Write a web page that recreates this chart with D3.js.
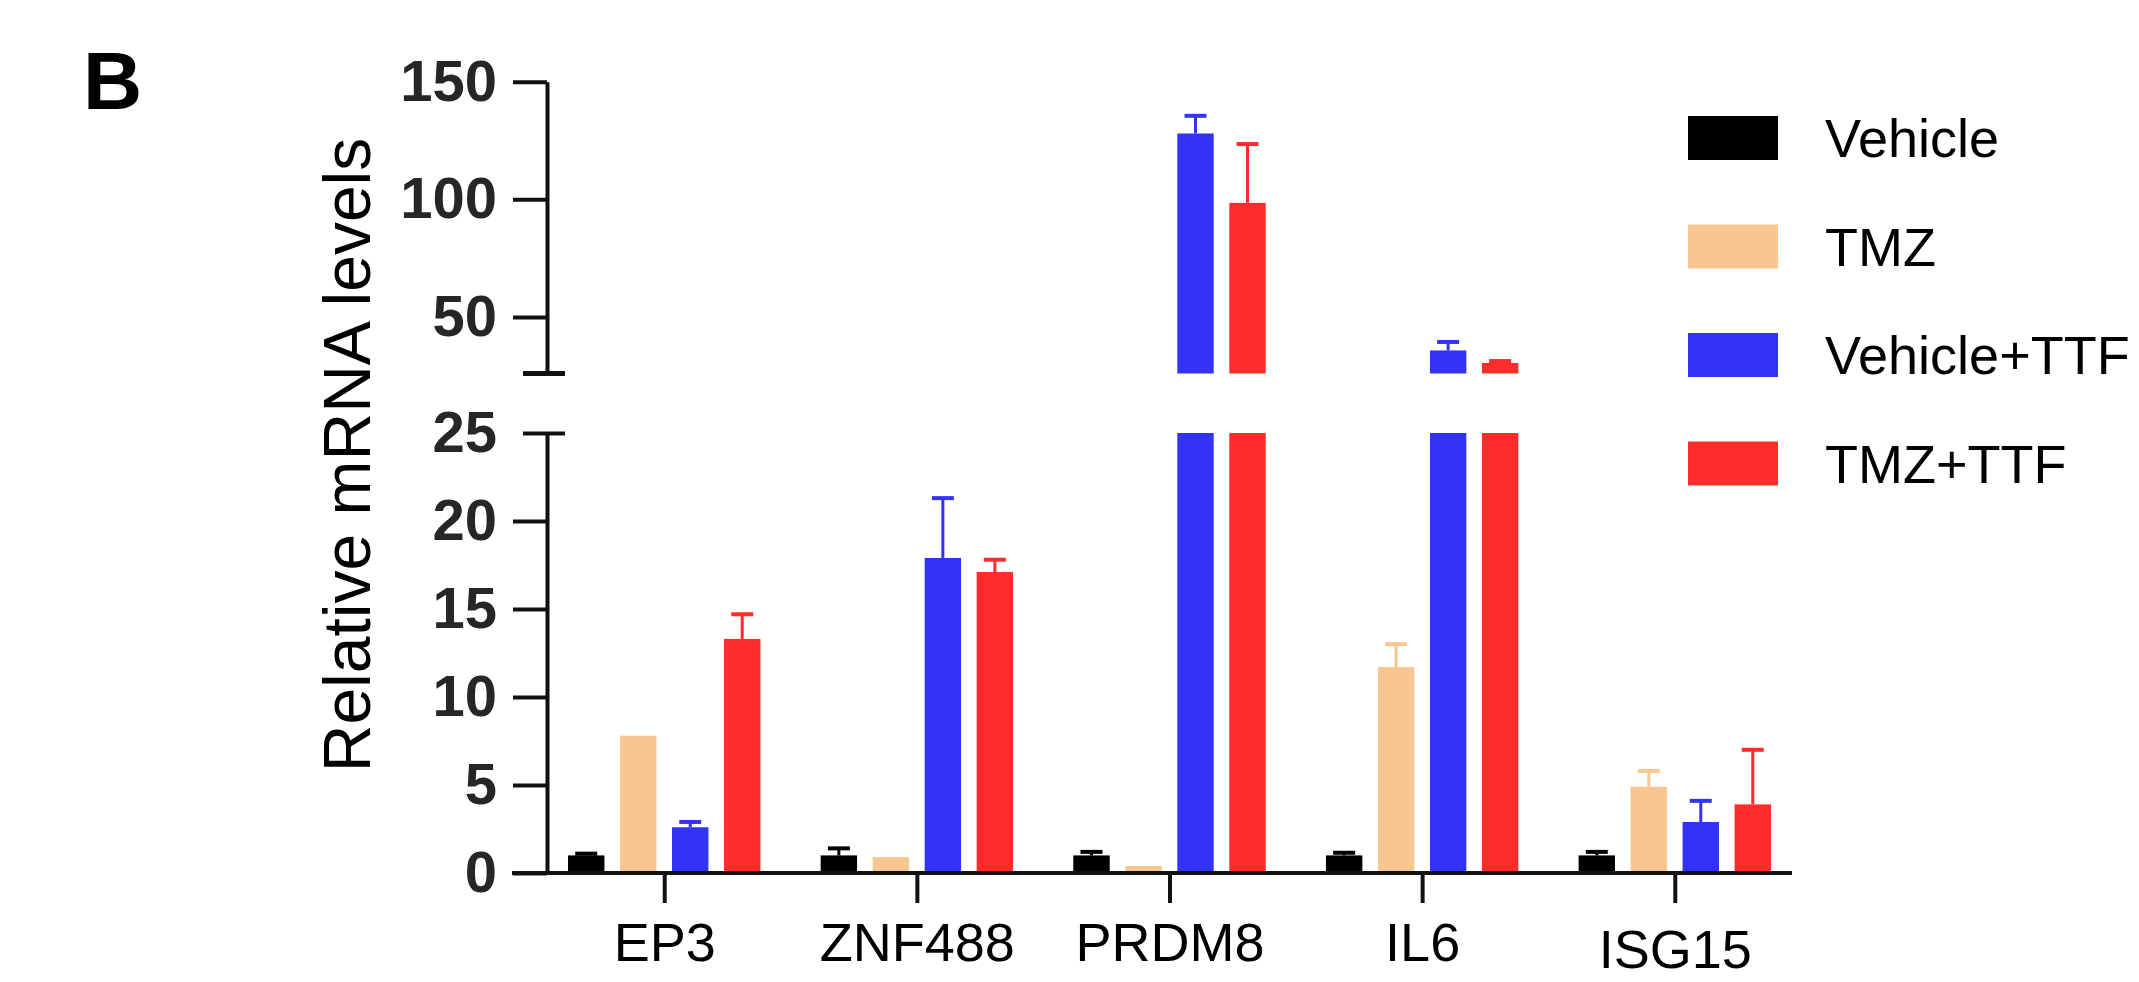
<!DOCTYPE html>
<html>
<head>
<meta charset="utf-8">
<script src="https://cdnjs.cloudflare.com/ajax/libs/d3/7.8.5/d3.min.js"></script>
<style>
  body { margin: 0; background: #fff; }
</style>
</head>
<body>
<script>
// data

var genes = ["EP3", "ZNF488", "PRDM8", "IL6", "ISG15"];
var groups = ["Vehicle", "TMZ", "Vehicle+TTF", "TMZ+TTF"];
var colors = ["#000000", "#f8c690", "#3333f6", "#ff2c2c"];

// mean relative mRNA level, one array per treatment (same order as genes)
var vehicle = [1.0, 1.0, 1.0, 1.0, 1.0];
var tmz     = [7.8, 0.9, 0.4, 11.7, 4.9];
var vehTTF  = [2.6, 17.9, 128, 35.8, 2.9];
var tmzTTF  = [13.3, 17.1, 98.5, 30.5, 3.9];

// upper error bars
var vehicleErr = [0.1, 0.4, 0.2, 0.15, 0.2];
var tmzErr     = [0, 0, 0, 1.3, 0.9];
var vehTTFErr  = [0.3, 3.4, 7.5, 3.6, 1.2];
var tmzTTFErr  = [1.4, 0.7, 25, 0.8, 3.1];

var upperTicks = [50, 100, 150];
var lowerTicks = [0, 5, 10, 15, 20, 25];

var series = [vehicle, tmz, vehTTF, tmzTTF];
var seriesErr = [vehicleErr, tmzErr, vehTTFErr, tmzTTFErr];

// svg set up
var width = 2139, height = 982;

var svg = d3.select("body").append("svg")
  .attr("width", width)
  .attr("height", height);

var x0 = d3.scalePoint().domain(genes).range([547, 1792]).padding(0.464);
var x1 = d3.scaleBand().domain(groups).range([-104, 104])
  .paddingInner(0.3).paddingOuter(0.15);

// broken y axis: two segments
var yLow = d3.scaleLinear().domain([0, 25]).range([873, 433]);
var yHigh = d3.scaleLinear().domain([26, 150]).range([373.5, 81.7]);

var rows = [];
genes.forEach((g, i) => {
  groups.forEach((s, j) => {
    rows.push({gene: g, group: s, color: colors[j], value: series[j][i], err: seriesErr[j][i]});
  });
});

// bars
var bars = svg.append("g");
rows.forEach(d => {
  var bx = x0(d.gene) + x1(d.group);
  var low = Math.min(d.value, 25);
  bars.append("rect")
    .attr("x", bx)
    .attr("y", yLow(low))
    .attr("width", x1.bandwidth())
    .attr("height", yLow(0) - yLow(low))
    .attr("fill", d.color);
  if (d.value > 25) {
    bars.append("rect")
      .attr("x", bx)
      .attr("y", yHigh(d.value))
      .attr("width", x1.bandwidth())
      .attr("height", yHigh(26) - yHigh(d.value))
      .attr("fill", d.color);
  }
  if (d.err > 0) {
    var y = d.value > 25 ? yHigh : yLow;
    var cx = bx + x1.bandwidth() / 2;
    bars.append("line")
      .attr("x1", cx).attr("x2", cx)
      .attr("y1", y(d.value)).attr("y2", y(d.value + d.err))
      .attr("stroke", d.color).attr("stroke-width", 3);
    bars.append("line")
      .attr("x1", cx - 11).attr("x2", cx + 11)
      .attr("y1", y(d.value + d.err)).attr("y2", y(d.value + d.err))
      .attr("stroke", d.color).attr("stroke-width", 4);
  }
});

// y axes
var styleAxis = g => {
  g.select(".domain").attr("stroke", "#111").attr("stroke-width", 4);
  g.selectAll(".tick line").attr("stroke", "#111").attr("stroke-width", 4);
  g.selectAll(".tick text")
    .attr("font-family", "'Liberation Sans', Arial, sans-serif")
    .attr("font-weight", "bold")
    .attr("font-size", 58)
    .attr("fill", "#262626");
};

var axisX = 547;

var gHigh = svg.append("g")
  .attr("transform", "translate(" + axisX + ",0)")
  .call(d3.axisLeft(yHigh).tickValues(upperTicks).tickSize(34).tickSizeOuter(0).tickPadding(16))
  .call(styleAxis);

var gLow = svg.append("g")
  .attr("transform", "translate(" + axisX + ",0)")
  .call(d3.axisLeft(yLow).tickValues(lowerTicks).tickSize(34).tickSizeOuter(0).tickPadding(16))
  .call(styleAxis);

// caps at the break
gLow.selectAll(".tick").filter(d => d == 25).select("line")
  .attr("x1", -24).attr("x2", 18);
gHigh.append("line")
  .attr("x1", -24).attr("x2", 18)
  .attr("y1", yHigh(26)).attr("y2", yHigh(26))
  .attr("stroke", "#111").attr("stroke-width", 5);
gLow.selectAll(".tick").filter(d => d == 25).select("text")
  .attr("x", -50);

// x axis
var gx = svg.append("g")
  .attr("transform", "translate(0," + yLow(0) + ")")
  .call(d3.axisBottom(x0).tickSize(30).tickSizeOuter(0).tickPadding(22));
gx.select(".domain").remove();
gx.append("line")
  .attr("x1", axisX - 35).attr("x2", 1792)
  .attr("stroke", "#111").attr("stroke-width", 4);
gx.selectAll(".tick line").attr("stroke", "#111").attr("stroke-width", 4);
gx.selectAll(".tick text")
  .attr("font-family", "'Liberation Sans', Arial, sans-serif")
  .attr("font-size", 54)
  .attr("fill", "#000")
  .attr("y", d => d == "ISG15" ? 57 : 50);

// y title
svg.append("text")
  .attr("transform", "translate(370,455) rotate(-90)")
  .attr("text-anchor", "middle")
  .attr("font-family", "'Liberation Sans', Arial, sans-serif")
  .attr("font-size", 66)
  .attr("fill", "#000")
  .text("Relative mRNA levels");

// panel letter
svg.append("text")
  .attr("x", 83)
  .attr("y", 109)
  .attr("font-family", "'Liberation Sans', Arial, sans-serif")
  .attr("font-weight", "bold")
  .attr("font-size", 82)
  .attr("fill", "#000")
  .text("B");

// legend
var legend = svg.append("g");
groups.forEach((s, i) => {
  var cy = 138 + i * 108.5;
  legend.append("rect")
    .attr("x", 1688).attr("y", cy - 22)
    .attr("width", 90).attr("height", 44)
    .attr("fill", colors[i]);
  legend.append("text")
    .attr("x", 1825).attr("y", cy)
    .attr("dy", "0.36em")
    .attr("font-family", "'Liberation Sans', Arial, sans-serif")
    .attr("font-size", 54)
    .attr("fill", "#000")
    .text(s);
});
</script>
</body>
</html>
